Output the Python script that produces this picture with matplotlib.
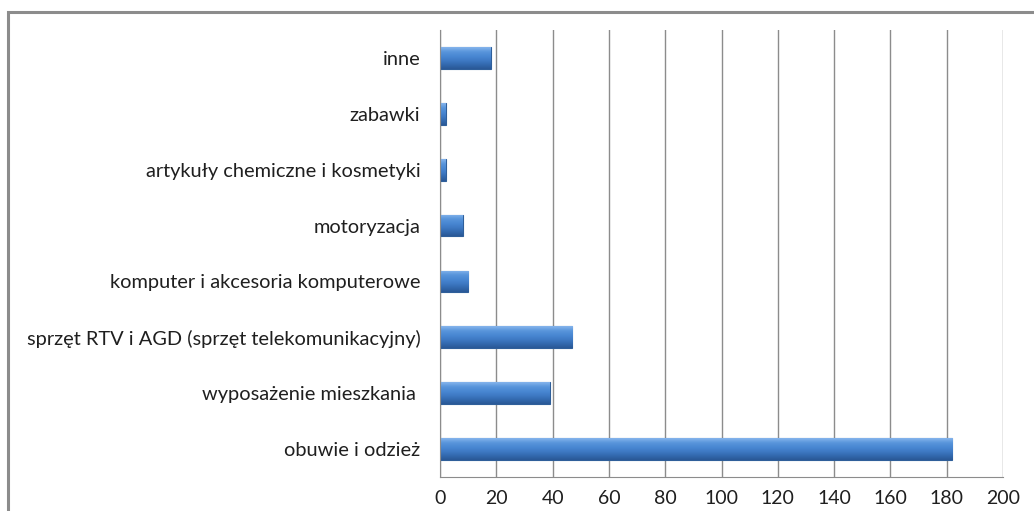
import matplotlib
matplotlib.use("Agg")
import matplotlib.pyplot as plt
import numpy as np
from matplotlib.patches import Rectangle
from matplotlib.colors import LinearSegmentedColormap

categories = [
    "obuwie i odzież",
    "wyposażenie mieszkania ",
    "sprzęt RTV i AGD (sprzęt telekomunikacyjny)",
    "komputer i akcesoria komputerowe",
    "motoryzacja",
    "artykuły chemiczne i kosmetyki",
    "zabawki",
    "inne",
]
values = [182, 39, 47, 10, 8, 2, 2, 18]
xticks = [0, 20, 40, 60, 80, 100, 120, 140, 160, 180, 200]

plt.rcParams['font.family'] = ['Lato', 'DejaVu Sans']

fig = plt.figure(figsize=(10.34, 5.11), dpi=100)
fig.patches.append(Rectangle((8/1034, -0.1), 1.2, (511-12)/511 + 0.1, transform=fig.transFigure,
                             fill=False, edgecolor='#8c8c8c', linewidth=2.2, zorder=0))
ax = fig.add_axes([440/1034, (511-477)/511, (1003-440)/1034, (477-30)/511])

y = np.arange(len(categories))
bars = ax.barh(y, values, height=0.39, color='#4a83cc', edgecolor='#2f5f9a', linewidth=0.8, zorder=3)

grad = np.linspace(0, 1, 64).reshape(-1, 1)
cmap = LinearSegmentedColormap.from_list('bev', ['#2a5896', '#336aaf', '#3f7bc6', '#4a88d3', '#5a96dc', '#86b5ec'])
for b in bars:
    x0, y0, w, h = b.get_x(), b.get_y(), b.get_width(), b.get_height()
    im = ax.imshow(grad, cmap=cmap, aspect='auto', extent=[x0, x0 + w, y0, y0 + h],
                   origin='lower', zorder=3.5, interpolation='bicubic')
    im.set_clip_path(b)

ax.set_xlim(0, 200)
ax.set_ylim(-0.5, len(categories) - 0.5)
ax.set_xticks(xticks)
ax.set_xticklabels([str(t) for t in xticks])
ax.set_yticks(y)
ax.set_yticklabels(categories)
ax.tick_params(axis='both', length=0, colors='#1f1f1f')
ax.tick_params(axis='y', pad=14, labelsize=14.4)
ax.tick_params(axis='x', pad=9, labelsize=14)
ax.xaxis.grid(True, color='#8c8c8c', linewidth=1.0, zorder=0)
ax.set_axisbelow(True)
for s in ['top', 'right']:
    ax.spines[s].set_visible(False)
ax.spines['left'].set_color('#8c8c8c')
ax.spines['bottom'].set_color('#8c8c8c')
ax.spines['left'].set_zorder(4)

fig.savefig('out.png', dpi=100)
